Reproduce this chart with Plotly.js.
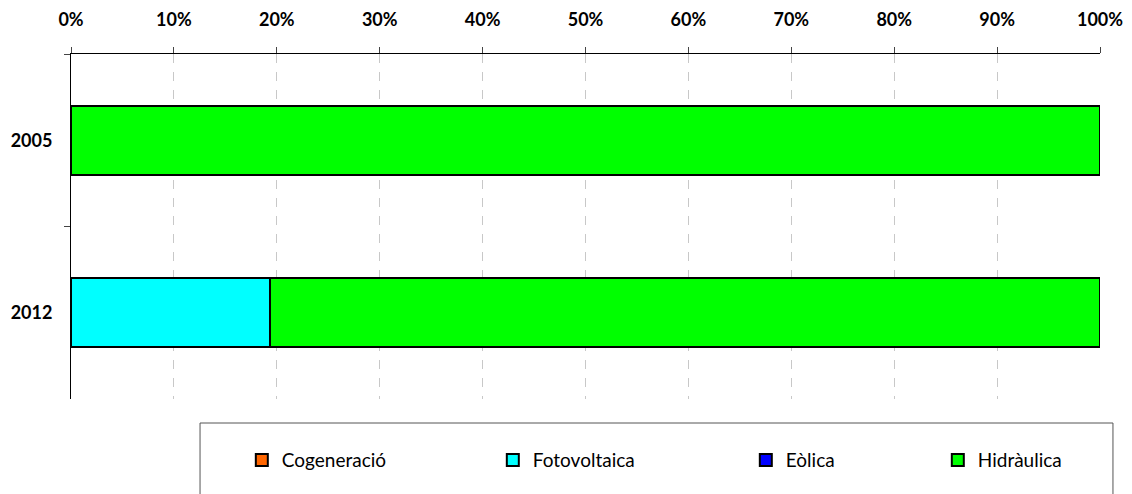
<!DOCTYPE html>
<html><head><meta charset="utf-8">
<script src="https://cdn.plot.ly/plotly-3.0.1.min.js"></script>
<style>html,body{margin:0;padding:0;background:#fff}#chart{width:1132px;height:494px}</style>
</head><body><div id="chart"></div>
<script>
const years = ['2005', '2012'];
const cogeneracio = [0, 0];
const fotovoltaica = [0, 0.193];
const eolica = [0, 0];
const hidraulica = [1, 0.807];
const seriesNames = ['Cogeneració', 'Fotovoltaica', 'Eòlica', 'Hidràulica'];
const seriesColors = ['#ff6600', '#00ffff', '#0000ff', '#00ff00'];
const seriesValues = [cogeneracio, fotovoltaica, eolica, hidraulica];
const legendWidths = [206, 208, 147, 100];

const traces = seriesValues.map((v, i) => ({
  type: 'bar', orientation: 'h', name: seriesNames[i], y: years, x: v,
  marker: {color: seriesColors[i], line: {color: '#000', width: 2}},
  legendwidth: legendWidths[i],
  hoverinfo: 'x+name'
}));

const layout = {
  width: 1132, height: 494,
  margin: {l: 71, r: 32, t: 54, b: 95, autoexpand: false},
  paper_bgcolor: '#fff', plot_bgcolor: '#fff',
  barmode: 'stack', bargap: 0.6,
  font: {family: 'Lato, "Open Sans", sans-serif', color: '#000'},
  xaxis: {
    side: 'top', range: [0, 1], dtick: 0.1, tick0: 0, tickformat: '.0%',
    ticks: 'outside', ticklen: 6, tickcolor: '#444', tickwidth: 1,
    showline: true, linecolor: '#000', linewidth: 1,
    showgrid: true, gridcolor: '#c8c8c8', griddash: 'dash', gridwidth: 1,
    zeroline: false, ticklabelstandoff: 14,
    tickfont: {size: 18, family: 'Lato, sans-serif', weight: 'bold'}
  },
  yaxis: {
    type: 'category', categoryorder: 'array', categoryarray: years, autorange: 'reversed',
    tickson: 'boundaries', ticks: 'outside', ticklen: 6, tickcolor: '#444',
    showline: true, linecolor: '#000', linewidth: 1, showgrid: false, zeroline: false,
    ticklabelstandoff: 14,
    tickfont: {size: 18, family: 'Lato, sans-serif', weight: 'bold'}
  },
  showlegend: true,
  legend: {
    orientation: 'h', traceorder: 'normal',
    x: 0.166, xanchor: 'left', y: -0.177, yanchor: 'middle',
    font: {size: 19, family: 'Lato, sans-serif'}, bgcolor: 'rgba(0,0,0,0)',
    itemclick: false
  },
  shapes: [{
    type: 'rect', xref: 'paper', yref: 'paper',
    x0: 0.1254, x1: 1.0126, y0: -0.0696, y1: -0.30,
    line: {color: '#555', width: 1}, fillcolor: 'rgba(0,0,0,0)', layer: 'below'
  }]
};
Plotly.newPlot('chart', traces, layout, {displayModeBar: false, staticPlot: true});
</script></body></html>
